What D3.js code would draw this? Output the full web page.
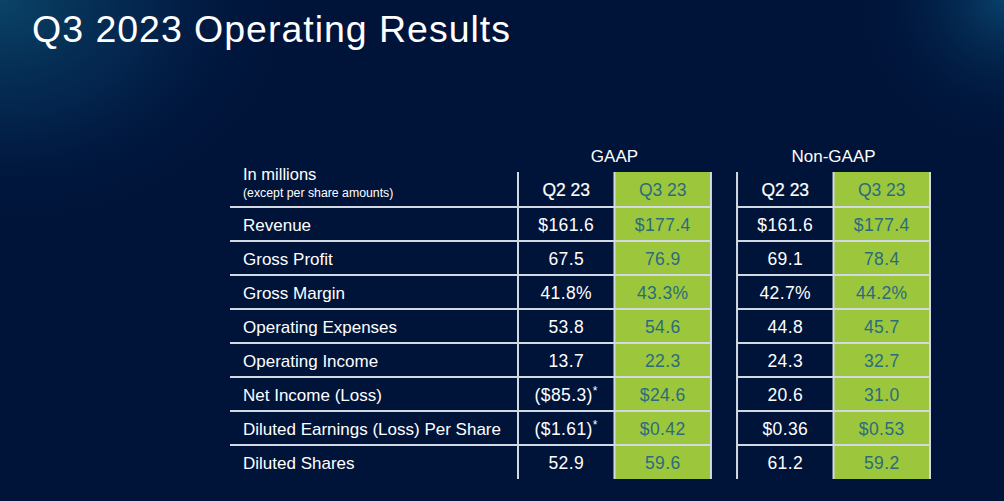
<!DOCTYPE html>
<html><head><meta charset="utf-8">
<script src="https://cdn.jsdelivr.net/npm/d3@7"></script>
<style>html,body{margin:0;padding:0;background:#00143a;overflow:hidden}</style>
</head><body>
<svg id="c" width="1004" height="501"></svg>
<script>
const title = "Q3 2023 Operating Results";
const unitLabel = "In millions";
const unitNote = "(except per share amounts)";
const groups = ["GAAP", "Non-GAAP"];
const periods = ["Q2 23", "Q3 23"];
const metrics = ["Revenue","Gross Profit","Gross Margin","Operating Expenses","Operating Income","Net Income (Loss)","Diluted Earnings (Loss) Per Share","Diluted Shares"];
const gaapQ2 = ["$161.6","67.5","41.8%","53.8","13.7","($85.3)*","($1.61)*","52.9"];
const gaapQ3 = ["$177.4","76.9","43.3%","54.6","22.3","$24.6","$0.42","59.6"];
const nonGaapQ2 = ["$161.6","69.1","42.7%","44.8","24.3","20.6","$0.36","61.2"];
const nonGaapQ3 = ["$177.4","78.4","44.2%","45.7","32.7","31.0","$0.53","59.2"];

const values = {"GAAP": [gaapQ2, gaapQ3], "Non-GAAP": [nonGaapQ2, nonGaapQ3]};

const svg = d3.select("#c");
const defs = svg.append("defs");
const g1 = defs.append("radialGradient").attr("id","tl").attr("gradientUnits","userSpaceOnUse")
  .attr("cx",0).attr("cy",0).attr("r",230).attr("gradientTransform","scale(1.3,1)");
g1.append("stop").attr("offset","0").attr("stop-color","#0a4466").attr("stop-opacity",1);
g1.append("stop").attr("offset","0.5").attr("stop-color","#06305a").attr("stop-opacity",0.6);
g1.append("stop").attr("offset","1").attr("stop-color","#00143a").attr("stop-opacity",0);
const g2 = defs.append("radialGradient").attr("id","tr").attr("gradientUnits","userSpaceOnUse")
  .attr("cx",1004).attr("cy",0).attr("r",150);
g2.append("stop").attr("offset","0").attr("stop-color","#08406a").attr("stop-opacity",1);
g2.append("stop").attr("offset","1").attr("stop-color","#00143a").attr("stop-opacity",0);

svg.append("rect").attr("width",1004).attr("height",501).attr("fill","#00143a");
svg.append("rect").attr("width",1004).attr("height",501).attr("fill","url(#tl)");
svg.append("rect").attr("width",1004).attr("height",501).attr("fill","url(#tr)");

const FONT = "'Liberation Sans', Arial, sans-serif";
const t = svg.append("text").attr("x",32).attr("y",42).attr("fill","#ffffff")
  .attr("font-family",FONT).attr("font-size",37.5).text(title);
const tw = t.node().getComputedTextLength();
t.attr("letter-spacing", ((478 - tw) / (title.length - 1)).toFixed(2));

// scales
const y = d3.scaleBand().domain(metrics).range([207, 479]);
const headerTop = 172, headerBottom = 207;
const gx = d3.scaleBand().domain(groups).range([518, 930]).paddingInner(0.119);
const px = d3.scaleBand().domain(periods).range([0, gx.bandwidth()]);
const labelLeft = 230;

const lineColor = "#d3d9e2";
const green = "#9cc63c";
const teal = "#2a6c7e";

// green cells
groups.forEach(gk => {
  svg.append("rect").attr("x", gx(gk)+px("Q3 23")).attr("y", headerTop)
    .attr("width", px.bandwidth()).attr("height", 479 - headerTop).attr("fill", green);
});

// horizontal lines
const hl = [headerBottom].concat(metrics.slice(1).map(m => y(m)));
hl.forEach(yy => {
  svg.append("line").attr("x1", labelLeft).attr("x2", gx("GAAP")+gx.bandwidth())
    .attr("y1", yy).attr("y2", yy).attr("stroke", lineColor).attr("stroke-width", 2);
  svg.append("line").attr("x1", gx("Non-GAAP")).attr("x2", gx("Non-GAAP")+gx.bandwidth())
    .attr("y1", yy).attr("y2", yy).attr("stroke", lineColor).attr("stroke-width", 2);
});
// vertical lines
groups.forEach(gk => {
  [0, px("Q3 23"), gx.bandwidth()].forEach(off => {
    svg.append("line").attr("x1", gx(gk)+off).attr("x2", gx(gk)+off)
      .attr("y1", headerTop).attr("y2", 479).attr("stroke", lineColor).attr("stroke-width", 2);
  });
});

// header texts
svg.append("text").attr("x",243).attr("y",180).attr("fill","#fff").attr("font-family",FONT).attr("font-size",16.5).text(unitLabel);
svg.append("text").attr("x",243).attr("y",197).attr("fill","#fff").attr("font-family",FONT).attr("font-size",12.3).text(unitNote);

groups.forEach(gk => {
  svg.append("text").attr("x", gx(gk)+gx.bandwidth()/2).attr("y",162).attr("text-anchor","middle")
    .attr("fill","#fff").attr("font-family",FONT).attr("font-size",17).text(gk);
  periods.forEach((p,i) => {
    svg.append("text").attr("x", gx(gk)+px(p)+px.bandwidth()/2).attr("y", (headerTop+headerBottom)/2+6.5)
      .attr("text-anchor","middle").attr("fill", i===1 ? teal : "#fff")
      .attr("font-family",FONT).attr("font-size",17.5)
      .attr("stroke", i===1 ? "none" : "#fff").attr("stroke-width", 0.2).text(p);
  });
});

// row labels
svg.selectAll("text.lbl").data(metrics).enter().append("text").attr("class","lbl")
  .attr("x",243).attr("y", d => y(d)+y.bandwidth()/2+6.5).attr("fill","#fff")
  .attr("font-family",FONT).attr("font-size",17).text(d => d);

// values
groups.forEach(gk => {
  periods.forEach((p,i) => {
    const col = values[gk][i];
    col.forEach((v, r) => {
      const txt = svg.append("text").attr("x", gx(gk)+px(p)+px.bandwidth()/2)
        .attr("y", y(metrics[r])+y.bandwidth()/2+6.5).attr("text-anchor","middle")
        .attr("fill", i===1 ? teal : "#fff").attr("font-family",FONT).attr("font-size",17.5)
        .attr("letter-spacing", 0.4);
      if (v.endsWith("*")) {
        txt.append("tspan").text(v.slice(0,-1));
        txt.append("tspan").attr("font-size",12).attr("dy",-6).text("*");
      } else txt.text(v);
    });
  });
});
</script>
</body></html>
